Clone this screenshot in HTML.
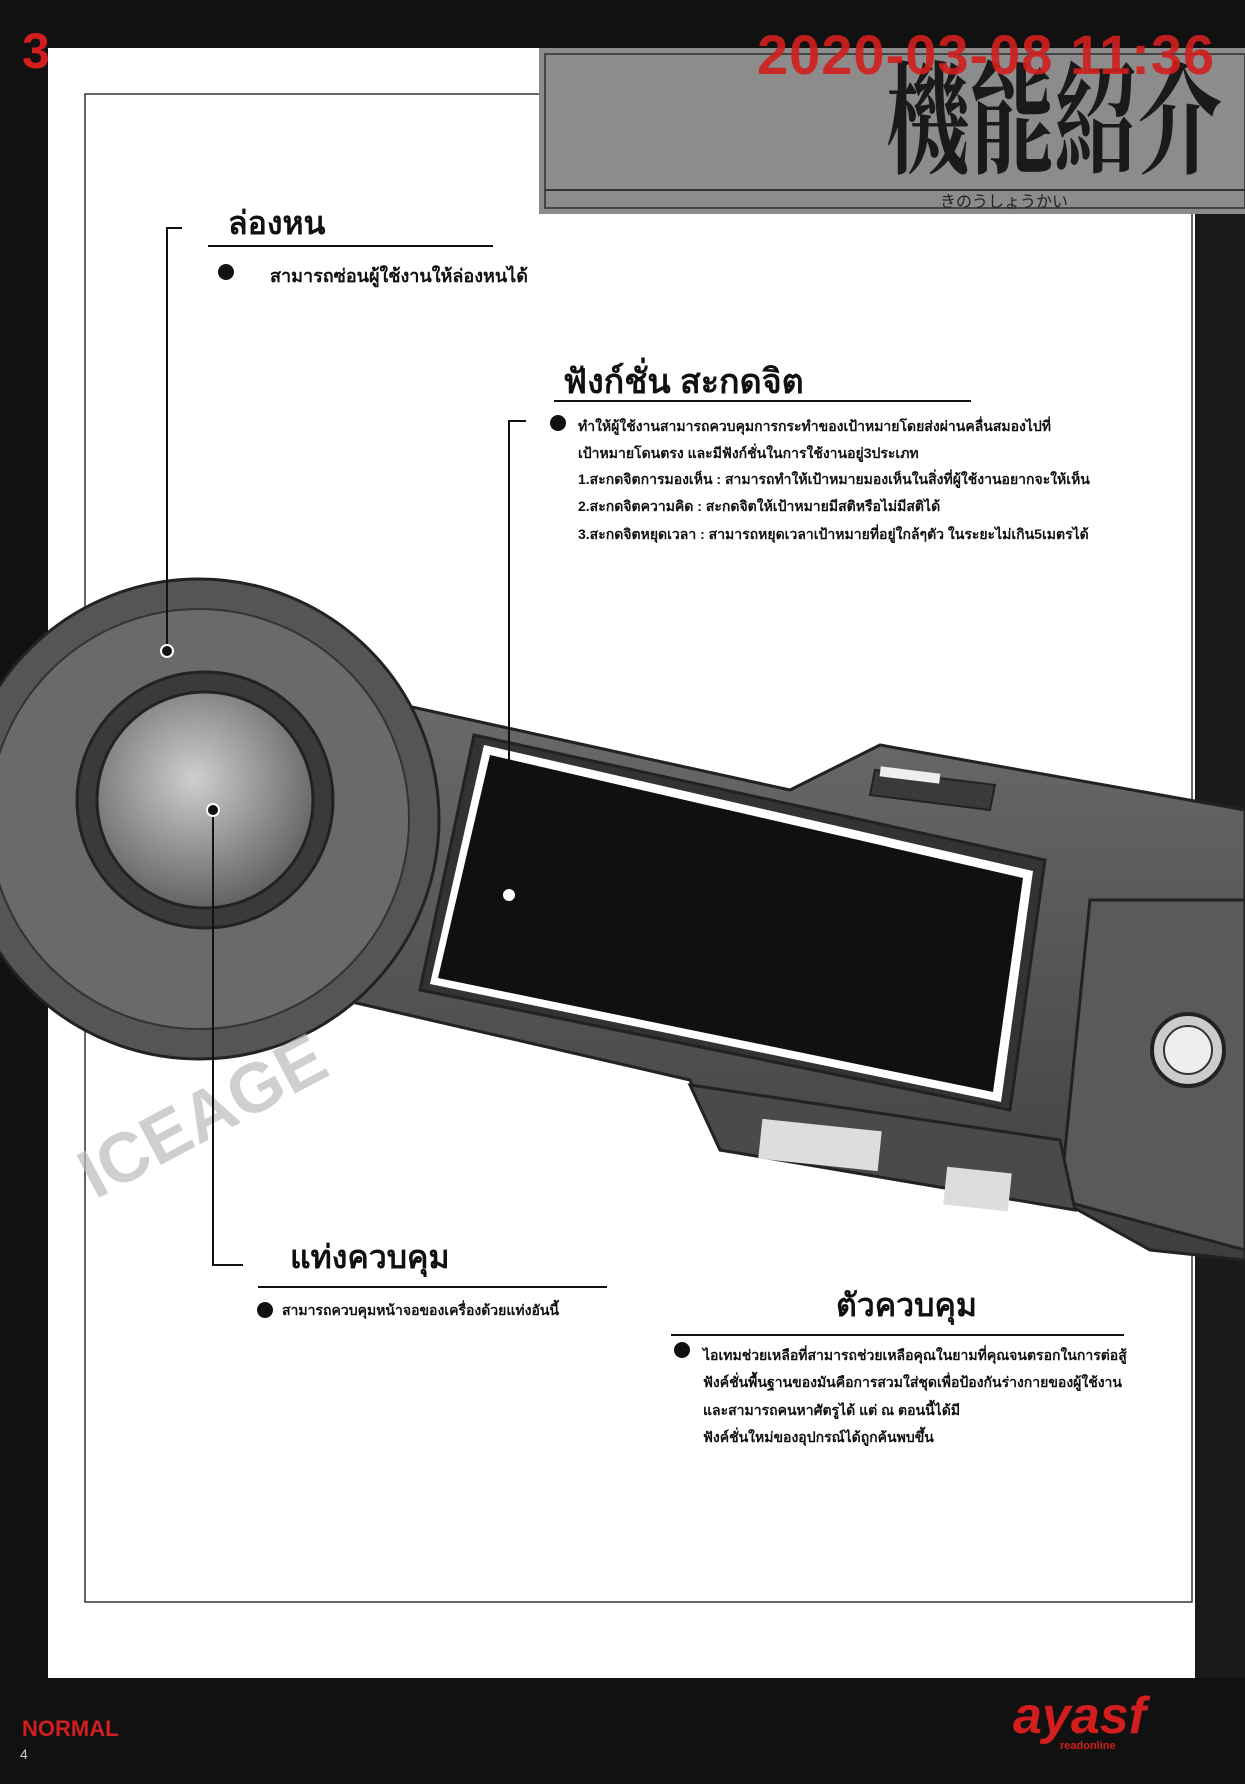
<!DOCTYPE html>
<html><head><meta charset="utf-8">
<style>
html,body{margin:0;padding:0;background:#111;}
body{width:1245px;height:1784px;position:relative;overflow:hidden;font-family:"Liberation Sans","DejaVu Sans",sans-serif;}
.t{position:absolute;white-space:nowrap;color:#111;font-weight:bold;}
.h{font-size:32px;}
.s{font-size:14px;}
.dot{position:absolute;width:16px;height:16px;border-radius:50%;background:#111;}
</style></head><body>
<svg width="1245" height="1784" viewBox="0 0 1245 1784" style="position:absolute;left:0;top:0">
  <defs>
    <radialGradient id="g1" cx="45%" cy="40%" r="65%">
      <stop offset="0" stop-color="#cfcfcf"/><stop offset="1" stop-color="#5a5a5a"/>
    </radialGradient>
    <linearGradient id="g2" x1="0" y1="0" x2="0" y2="1">
      <stop offset="0" stop-color="#6a6a6a"/><stop offset="1" stop-color="#3e3e3e"/>
    </linearGradient>
  </defs>
  <rect x="48" y="48" width="1147" height="1630" fill="#fff"/>
  <rect x="1195" y="214" width="50" height="1464" fill="#1a1a1a"/>
  <rect x="85" y="94" width="1107" height="1508" fill="none" stroke="#333" stroke-width="1.5"/>
  <rect x="539" y="48" width="706" height="166" fill="#8c8c8c"/>
  <rect x="545" y="54" width="700" height="154" fill="none" stroke="#444" stroke-width="2"/>
  <line x1="545" y1="190" x2="1245" y2="190" stroke="#333" stroke-width="2"/>
  <polygon points="380,700 790,790 880,745 1245,810 1245,1260 1150,1250 1060,1200 720,1150 690,1080 300,990" fill="url(#g2)" stroke="#222" stroke-width="3"/>
  <polygon points="1090,900 1245,900 1245,1250 1060,1200" fill="#5a5a5a" stroke="#222" stroke-width="3"/>
  <polygon points="690,1085 1060,1140 1075,1210 720,1150" fill="#4a4a4a" stroke="#222" stroke-width="3"/>
  <rect x="760" y="1125" width="120" height="40" fill="#ddd" transform="rotate(6 820 1145)"/>
  <rect x="945" y="1170" width="65" height="38" fill="#ddd" transform="rotate(6 977 1189)"/>
  <polygon points="875,770 995,785 990,810 870,795" fill="#3a3a3a" stroke="#222" stroke-width="2"/>
  <rect x="880" y="770" width="60" height="10" fill="#eee" transform="rotate(7 910 775)"/>
  <circle cx="1188" cy="1050" r="36" fill="#ccc" stroke="#222" stroke-width="4"/>
  <circle cx="1188" cy="1050" r="24" fill="#eee" stroke="#333" stroke-width="2"/>
  <polygon points="474,735 1045,860 1010,1110 420,990" fill="#333" stroke="#222" stroke-width="3"/>
  <polygon points="484,745 1033,871 1001,1102 430,984" fill="#fff"/>
  <polygon points="490,755 1023,878 993,1092 438,978" fill="#101010"/>
  <circle cx="199" cy="819" r="240" fill="#555" stroke="#222" stroke-width="3"/>
  <circle cx="199" cy="819" r="210" fill="#6a6a6a" stroke="#333" stroke-width="2"/>
  <circle cx="205" cy="800" r="128" fill="#3a3a3a" stroke="#222" stroke-width="3"/>
  <circle cx="205" cy="800" r="108" fill="url(#g1)" stroke="#222" stroke-width="3"/>
  <text x="95" y="1200" transform="rotate(-28 95 1200)" font-family="Liberation Sans, sans-serif" font-weight="bold" font-size="70" fill="#bbb" opacity="0.7">ICEAGE</text>
  <polyline points="182,228 167,228 167,651" fill="none" stroke="#111" stroke-width="2"/>
  <circle cx="167" cy="651" r="6" fill="#111" stroke="#fff" stroke-width="2"/>
  <polyline points="526,421 509,421 509,895" fill="none" stroke="#111" stroke-width="2"/>
  <circle cx="509" cy="895" r="7" fill="#fff" stroke="#111" stroke-width="2"/>
  <polyline points="213,810 213,1265 243,1265" fill="none" stroke="#111" stroke-width="2"/>
  <circle cx="213" cy="810" r="6" fill="#111" stroke="#fff" stroke-width="2"/>
  <line x1="208" y1="246" x2="493" y2="246" stroke="#111" stroke-width="2"/>
  <line x1="554" y1="401" x2="971" y2="401" stroke="#111" stroke-width="2"/>
  <line x1="258" y1="1287" x2="607" y2="1287" stroke="#111" stroke-width="2"/>
  <line x1="671" y1="1335" x2="1124" y2="1335" stroke="#111" stroke-width="2"/>
</svg>

<div class="t" style="left:886px;top:40px;font-size:84px;line-height:100px;font-family:'Noto Serif CJK SC','Liberation Serif',serif;color:#1a1a1a;transform:scaleY(1.45);transform-origin:0 0;">機能紹介</div>
<div class="t" style="left:940px;top:188px;font-size:16px;font-weight:normal;font-family:'Noto Sans CJK JP',sans-serif;color:#222;">きのうしょうかい</div>
<div class="t" style="left:757px;top:22px;font-size:56px;letter-spacing:1px;color:#d21e1e;opacity:0.9;">2020-03-08 11:36</div>
<div class="t" style="left:22px;top:22px;font-size:50px;color:#d21e1e;">3</div>

<div class="t h" style="left:228px;top:198px;">ล่องหน</div>
<div class="dot" style="left:218px;top:264px;"></div>
<div class="t" style="left:270px;top:261px;font-size:18px;">สามารถซ่อนผู้ใช้งานให้ล่องหนได้</div>

<div class="t h" style="left:563px;top:354px;font-size:34px;">ฟังก์ชั่น สะกดจิต</div>
<div class="dot" style="left:550px;top:415px;"></div>
<div class="t s" style="left:578px;top:416px;">ทำให้ผู้ใช้งานสามารถควบคุมการกระทำของเป้าหมายโดยส่งผ่านคลื่นสมองไปที่</div>
<div class="t s" style="left:578px;top:443px;">เป้าหมายโดนตรง และมีฟังก์ชั่นในการใช้งานอยู่3ประเภท</div>
<div class="t s" style="left:578px;top:469px;">1.สะกดจิตการมองเห็น : สามารถทำให้เป้าหมายมองเห็นในสิ่งที่ผู้ใช้งานอยากจะให้เห็น</div>
<div class="t s" style="left:578px;top:496px;">2.สะกดจิตความคิด : สะกดจิตให้เป้าหมายมีสติหรือไม่มีสติได้</div>
<div class="t s" style="left:578px;top:524px;">3.สะกดจิตหยุดเวลา : สามารถหยุดเวลาเป้าหมายที่อยู่ใกล้ๆตัว ในระยะไม่เกิน5เมตรได้</div>

<div class="t h" style="left:290px;top:1232px;">แท่งควบคุม</div>
<div class="dot" style="left:257px;top:1302px;"></div>
<div class="t s" style="left:282px;top:1300px;">สามารถควบคุมหน้าจอของเครื่องด้วยแท่งอันนี้</div>

<div class="t h" style="left:836px;top:1280px;">ตัวควบคุม</div>
<div class="dot" style="left:674px;top:1342px;"></div>
<div class="t s" style="left:703px;top:1345px;">ไอเทมช่วยเหลือที่สามารถช่วยเหลือคุณในยามที่คุณจนตรอกในการต่อสู้</div>
<div class="t s" style="left:703px;top:1372px;">ฟังค์ชั่นพื้นฐานของมันคือการสวมใส่ชุดเพื่อป้องกันร่างกายของผู้ใช้งาน</div>
<div class="t s" style="left:703px;top:1400px;">และสามารถคนหาศัตรูได้ แต่ ณ ตอนนี้ได้มี</div>
<div class="t s" style="left:703px;top:1427px;">ฟังค์ชั่นใหม่ของอุปกรณ์ได้ถูกค้นพบขึ้น</div>

<div class="t" style="left:22px;top:1716px;font-size:22px;color:#d21e1e;">NORMAL</div>
<div class="t" style="left:20px;top:1746px;font-size:14px;font-weight:normal;color:#ccc;">4</div>
<div class="t" style="left:1013px;top:1686px;font-size:52px;color:#d21e1e;font-style:italic;">ayasf</div>
<div class="t" style="left:1060px;top:1740px;font-size:11px;color:#d21e1e;">readonline</div>
</body></html>
